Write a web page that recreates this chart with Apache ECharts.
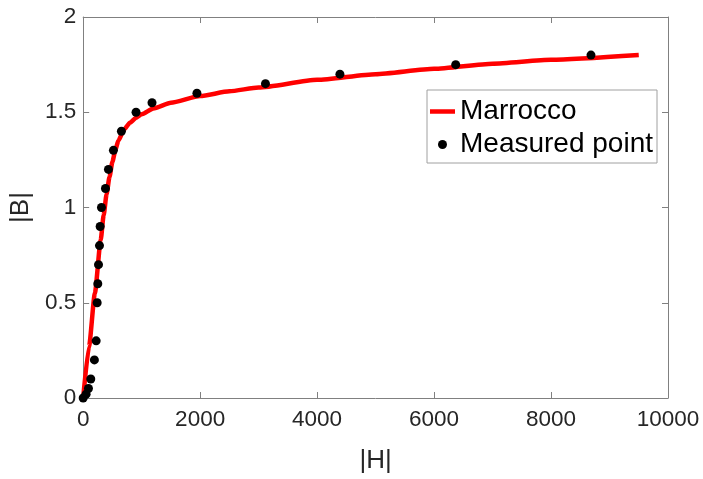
<!DOCTYPE html>
<html>
<head>
<meta charset="utf-8">
<script src="https://cdn.jsdelivr.net/npm/echarts@6/dist/echarts.min.js"></script>
<style>
  html, body { margin: 0; padding: 0; background: #fff; }
  #chart { width: 703px; height: 479px; }
</style>
</head>
<body>
<div id="chart"></div>
<script>
// Measured B-H points
const measuredH = [0, 50, 90, 130, 192, 222, 239, 250, 262, 279, 290, 313, 381, 432, 517, 654, 904, 1177, 1945, 3117, 4390, 6370, 8683];
const measuredB = [0, 0.02, 0.05, 0.1, 0.2, 0.3, 0.5, 0.6, 0.7, 0.8, 0.9, 1.0, 1.1, 1.2, 1.3, 1.4, 1.5, 1.55, 1.6, 1.65, 1.7, 1.75, 1.8];

// Marrocco model curve
const modelH = [0, 100, 200, 300, 350, 400, 450, 500, 550, 600, 700, 800, 900, 1000, 1200, 1500, 2000, 2500, 3000, 4000, 5000, 6000, 7000, 8000, 9500];
const modelB = [0, 0.27, 0.55, 0.83, 0.96, 1.07, 1.16, 1.24, 1.30, 1.35, 1.41, 1.445, 1.47, 1.49, 1.52, 1.55, 1.585, 1.61, 1.63, 1.67, 1.70, 1.728, 1.755, 1.775, 1.80];

const xTicks = { min: 0, max: 10000, interval: 2000 };
const yTicks = { min: 0, max: 2, interval: 0.5 };

const font = '"Liberation Sans", Arial, Helvetica, sans-serif';
const axisColor = '#808080';
const textColor = '#262626';

const pair = (xs, ys) => xs.map((x, i) => [x, ys[i]]);

const boxAxis = (extra) => Object.assign({
  type: 'value',
  axisLine: { show: true, onZero: false, lineStyle: { color: axisColor, width: 1 } },
  axisTick: { show: true, inside: true, length: 6, lineStyle: { color: axisColor } },
  splitLine: { show: false }
}, extra);

const chart = echarts.init(document.getElementById('chart'), null, { renderer: 'canvas' });
chart.setOption({
  backgroundColor: '#ffffff',
  animation: false,
  textStyle: { fontFamily: font },
  grid: { left: 82, right: 35, top: 17, bottom: 74, containLabel: false },
  legend: {
    orient: 'vertical',
    left: 427,
    top: 90,
    padding: [6, 4, 3, 3],
    itemGap: 2,
    itemWidth: 25,
    itemHeight: 9,
    symbolKeepAspect: true,
    borderColor: '#a0a0a0',
    borderWidth: 1,
    backgroundColor: '#ffffff',
    textStyle: { fontFamily: font, fontSize: 28, color: '#000', lineHeight: 31 },
    data: [
      { name: 'Marrocco', icon: 'path://M0,0H25V4.5H0Z', itemStyle: { color: '#ff0000' } },
      { name: 'Measured point', icon: 'circle', itemStyle: { color: '#000', opacity: 1 } }
    ]
  },
  xAxis: [
    boxAxis(Object.assign({
      position: 'bottom',
      name: '|H|',
      nameLocation: 'middle',
      nameGap: 50,
      nameTextStyle: { fontFamily: font, fontSize: 26, color: textColor },
      axisLabel: { margin: 10, fontFamily: font, fontSize: 22.5, color: textColor, formatter: v => String(v) }
    }, xTicks)),
    boxAxis(Object.assign({ position: 'top', axisLabel: { show: false } }, xTicks))
  ],
  yAxis: [
    boxAxis(Object.assign({
      position: 'left',
      name: '|B|',
      nameLocation: 'middle',
      nameGap: 45,
      nameTextStyle: { fontFamily: font, fontSize: 26, color: textColor },
      axisLabel: { margin: 7, fontFamily: font, fontSize: 22.5, color: textColor, formatter: v => String(v) }
    }, yTicks)),
    boxAxis(Object.assign({ position: 'right', axisLabel: { show: false } }, yTicks))
  ],
  series: [
    {
      name: 'Marrocco',
      type: 'line',
      data: pair(modelH, modelB),
      smooth: 0.2,
      smoothMonotone: 'x',
      showSymbol: false,
      symbol: 'none',
      lineStyle: { color: '#ff0000', width: 4.5 },
      itemStyle: { color: '#ff0000' },
      z: 2
    },
    {
      name: 'Measured point',
      type: 'scatter',
      data: pair(measuredH, measuredB),
      symbol: 'circle',
      symbolSize: 9,
      itemStyle: { color: '#000000', opacity: 1 },
      z: 3
    }
  ]
});
</script>
</body>
</html>
